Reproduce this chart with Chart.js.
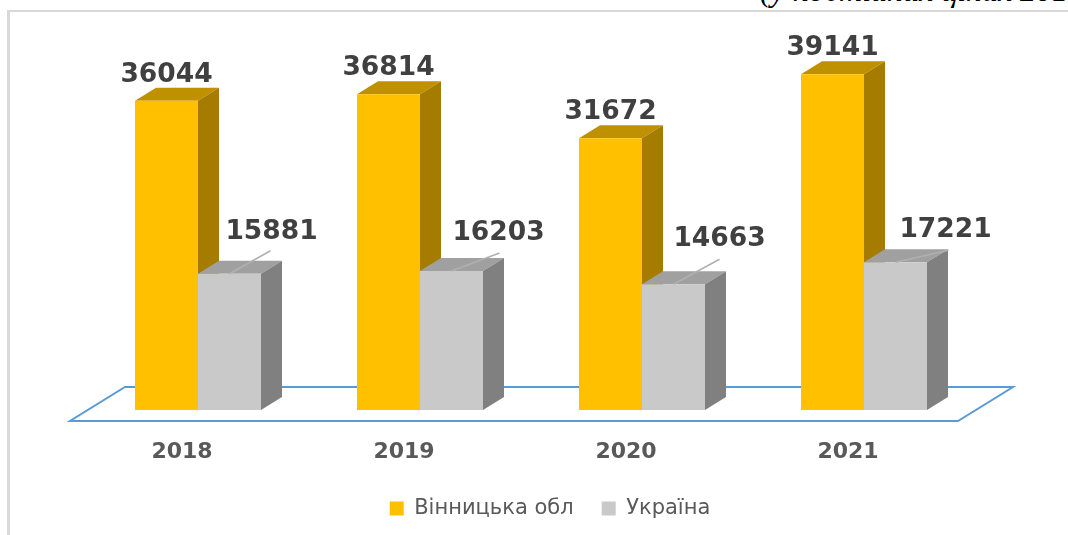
<!DOCTYPE html>
<html lang="en">
<head>
    <meta charset="UTF-8">
    <title>Вінницька обл / Україна</title>
    <script src="https://cdn.jsdelivr.net/npm/chart.js"></script>
    <style>
        body {
            margin: 0;
            background-color: white;
            overflow: hidden;
        }
        #wrap {
            position: relative;
            width: 1068px;
            height: 535px;
            overflow: hidden;
        }
        /* grey frame, only the top and left edges are visible */
        #frame {
            position: absolute;
            left: 7px;
            top: 10px;
            width: 1100px;
            height: 600px;
            border-left: 3px solid #d9d9d9;
            border-top: 2px solid #d9d9d9;
        }
        /* caption line cut off by the top of the picture */
        #note {
            position: absolute;
            left: 760px;
            top: -26px;
            white-space: nowrap;
            font-family: "Liberation Serif", serif;
            font-style: italic;
            font-size: 32px;
            line-height: 32px;
            color: black;
        }
        canvas {
            position: absolute;
            left: 0;
            top: 0;
        }
    </style>
</head>
<body>
    <div id="wrap">
        <div id="frame"></div>
        <div id="note">(у постійних цінах 2010 р.)</div>
        <canvas id="chart" width="1068" height="535"></canvas>
    </div>

    <script>
        var years = ["2018", "2019", "2020", "2021"];
        var vinnytsia = [36044, 36814, 31672, 39141];
        var ukraine = [15881, 16203, 14663, 17221];

        // how far the value labels sit from the bar top (dx, dy)
        var ukraineLabelShift = [[42, -42], [47, -38], [46, -45], [50, -32]];
        // leader line ends for the Ukraine labels
        var ukraineLeaderEnd = [[41, -23], [48, -18], [46, -25], [53, -12]];

        var depthX = 21, depthY = 13;

        function poly(ctx, pts, color) {
            ctx.fillStyle = color;
            ctx.beginPath();
            ctx.moveTo(pts[0][0], pts[0][1]);
            for (var i = 1; i < pts.length; i++) ctx.lineTo(pts[i][0], pts[i][1]);
            ctx.closePath();
            ctx.fill();
        }

        // fake 3d look: floor plate and the top/side faces of each bar
        var box3d = {
            id: "box3d",
            afterLayout: function (chart) {
                // legend sits a bit right of the canvas centre
                chart.legend.left += 19;
                chart.legend.right += 19;
            },
            beforeDatasetsDraw: function (chart) {
                var ctx = chart.ctx, a = chart.chartArea;
                ctx.save();
                ctx.strokeStyle = "#5b9bd5";
                ctx.lineWidth = 2;
                ctx.beginPath();
                ctx.moveTo(a.left - 17, a.bottom + 11);
                ctx.lineTo(a.right - 17, a.bottom + 11);
                ctx.lineTo(a.right + 38, a.bottom - 23);
                ctx.lineTo(a.left + 38, a.bottom - 23);
                ctx.closePath();
                ctx.stroke();

                var faces = [["#bf9000", "#a67c00"], ["#a0a0a0", "#808080"]];
                [0, 1].forEach(function (d) {
                    chart.getDatasetMeta(d).data.forEach(function (bar) {
                        var l = bar.x - bar.width / 2, r = bar.x + bar.width / 2;
                        poly(ctx, [[l, bar.y], [l + depthX, bar.y - depthY], [r + depthX, bar.y - depthY], [r, bar.y]], faces[d][0]);
                        poly(ctx, [[r, bar.y], [r + depthX, bar.y - depthY], [r + depthX, bar.base - depthY], [r, bar.base]], faces[d][1]);
                    });
                });
                ctx.restore();
            },
            afterDatasetsDraw: function (chart) {
                var ctx = chart.ctx;
                ctx.save();
                ctx.textAlign = "center";
                ctx.textBaseline = "middle";
                ctx.font = "bold 26.5px 'DejaVu Sans'";
                ctx.fillStyle = "#404040";
                chart.getDatasetMeta(0).data.forEach(function (bar, i) {
                    ctx.fillText(vinnytsia[i], bar.x, bar.y - 26);
                });
                chart.getDatasetMeta(1).data.forEach(function (bar, i) {
                    ctx.strokeStyle = "#b0b0b0";
                    ctx.lineWidth = 1.5;
                    ctx.beginPath();
                    ctx.moveTo(bar.x, bar.y);
                    ctx.lineTo(bar.x + ukraineLeaderEnd[i][0], bar.y + ukraineLeaderEnd[i][1]);
                    ctx.stroke();
                    ctx.fillText(ukraine[i], bar.x + ukraineLabelShift[i][0], bar.y + ukraineLabelShift[i][1]);
                });
                ctx.restore();
            }
        };

        new Chart(document.getElementById("chart"), {
            type: "bar",
            plugins: [box3d],
            data: {
                labels: years,
                datasets: [
                    { label: "Вінницька обл", data: vinnytsia, backgroundColor: "#ffc000" },
                    { label: "Україна", data: ukraine, backgroundColor: "#c9c9c9" }
                ]
            },
            options: {
                responsive: false,
                animation: false,
                layout: { padding: { left: 87, right: 93, top: 24, bottom: 6 } },
                datasets: { bar: { categoryPercentage: 0.5676, barPercentage: 1 } },
                scales: {
                    x: {
                        // fixed axis height so the bars end where they should
                        afterFit: function (scale) { scale.height = 60; },
                        grid: { display: false },
                        border: { display: false },
                        ticks: {
                            color: "#595959",
                            font: { family: "DejaVu Sans", size: 22, weight: "bold" },
                            labelOffset: -16,
                            padding: 21,
                            maxRotation: 0
                        }
                    },
                    y: { display: false, min: 0, max: 45000 }
                },
                plugins: {
                    tooltip: { enabled: false },
                    legend: {
                        position: "bottom",
                        labels: {
                            boxWidth: 14,
                            boxHeight: 14,
                            padding: 28,
                            color: "#595959",
                            font: { family: "DejaVu Sans", size: 21 }
                        }
                    }
                }
            }
        });
    </script>
</body>
</html>
